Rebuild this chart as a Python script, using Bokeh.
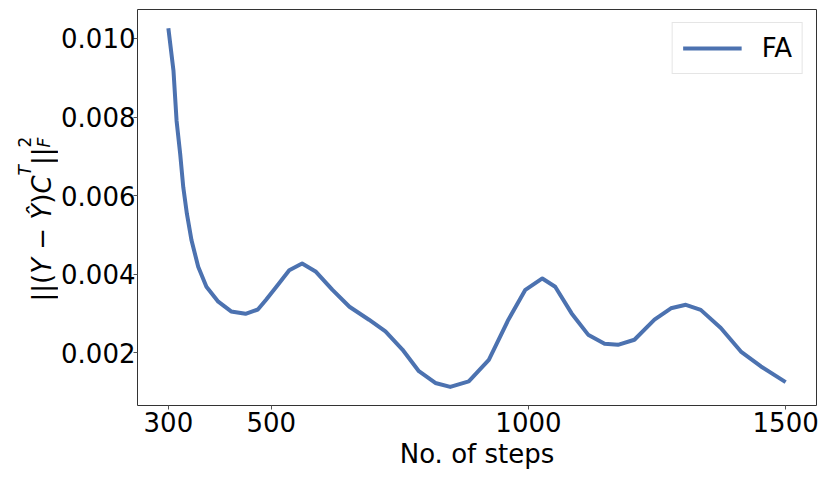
import math
from bokeh.plotting import figure
from bokeh.layouts import row
from bokeh.models import Range1d, FixedTicker, NumeralTickFormatter, Legend, LegendItem
from bokeh.core.properties import value
from bokeh.embed import file_html
from bokeh.resources import INLINE

steps = [300, 310, 316, 323, 329, 336, 345, 358, 374, 397, 422, 450, 474, 490, 510,
         535, 560, 587, 619, 652, 690, 722, 755, 787, 819, 848, 884, 923, 961, 994,
         1027, 1052, 1084, 1116, 1148, 1174, 1206, 1245, 1277, 1306, 1335, 1374,
         1413, 1452, 1500]
error = [0.01026, 0.00917, 0.0079, 0.00706, 0.00621, 0.00554, 0.00486, 0.00419,
         0.00368, 0.0033, 0.00305, 0.00299, 0.0031, 0.00335, 0.00368, 0.0041,
         0.00427, 0.00406, 0.0036, 0.00317, 0.00284, 0.00254, 0.00208, 0.00153,
         0.00123, 0.00113, 0.00127, 0.00182, 0.00284, 0.0036, 0.00389, 0.00368,
         0.0030, 0.00246, 0.00223, 0.0022, 0.00233, 0.00284, 0.00313, 0.00322,
         0.00309, 0.00263, 0.00203, 0.00165, 0.00125]
x_ticks = [300, 500, 1000, 1500]
y_ticks = [0.002, 0.004, 0.006, 0.008, 0.010]
series_name = "FA"
x_label = "No. of steps"
# y label ||(Y − Ŷ)C^T||_F^2 as (text, style, role)
y_label_parts = [("||(", "normal", "base"), ("Y", "italic", "base"),
                 ("\u00a0−\u00a0", "normal", "base"), ("Ŷ", "italic", "base"),
                 (")", "normal", "base"), ("C", "italic", "base"),
                 ("T", "italic", "sup"), ("||", "normal", "base"),
                 ("2", "normal", "sup"), ("F", "italic", "sub")]

FONT = "DejaVu Sans"
BLUE = "#4C72B0"
H = 471
LW = 58  # width of the y-label strip

# advance widths (em) of DejaVu Sans glyphs used
ADV = {"|": 0.337, "(": 0.390, ")": 0.390, "Y": 0.611, "Ŷ": 0.611, " ": 0.318,
       "\u00a0": 0.318, "−": 0.838, "C": 0.698, "T": 0.611, "2": 0.636, "F": 0.575}

# ---- y-label strip ----
lf = figure(width=LW, height=H, output_backend="svg", toolbar_location=None,
            x_range=Range1d(0, LW), y_range=Range1d(0, H),
            min_border=0, min_border_left=0, min_border_right=0,
            min_border_top=0, min_border_bottom=0)
lf.frame_width = LW
lf.frame_height = H
lf.axis.visible = False
lf.grid.visible = False
lf.outline_line_color = None

BASE_SIZE, SMALL_SIZE = 26, 17
ypos = H - 292.0
last_sup_y = ypos
for text, style, role in y_label_parts:
    if role == "base":
        xs, size = 41, BASE_SIZE
        y_here = ypos
    elif role == "sup":
        xs, size = 24, SMALL_SIZE
        y_here = ypos
    else:  # subscript placed under the preceding superscript
        xs, size = 43, SMALL_SIZE
        y_here = last_sup_y
    lf.text(x=[xs], y=[y_here], text=[text], angle=math.pi / 2,
            text_font=value(FONT), text_font_size=value(f"{size}px"),
            text_font_style=style, text_color="black",
            text_align="left", text_baseline="alphabetic")
    w = sum(ADV.get(ch, 0.6) for ch in text) * size
    if role == "sup":
        last_sup_y = y_here
    if role != "sub":
        ypos = y_here + w

# ---- main plot ----
p = figure(width=822 - LW, height=H, output_backend="svg", toolbar_location=None,
           x_range=Range1d(240, 1560), y_range=Range1d(0.000656, 0.010737),
           min_border_left=136 - LW, min_border_right=7, min_border_top=9,
           min_border_bottom=66)
p.frame_width = 679
p.frame_height = 396

r = p.line(steps, error, line_color=BLUE, line_width=4, line_join="round")

p.xgrid.visible = False
p.ygrid.visible = False
p.outline_line_color = "#333333"
p.outline_line_width = 1

for ax in (p.xaxis[0], p.yaxis[0]):
    ax.axis_line_color = None
    ax.major_tick_line_color = "#555555"
    ax.major_tick_out = 4
    ax.major_tick_in = 0
    ax.minor_tick_line_color = None
    ax.major_label_text_font = FONT
    ax.major_label_text_font_size = "26px"
    ax.major_label_text_color = "black"

p.xaxis[0].ticker = FixedTicker(ticks=x_ticks)
p.yaxis[0].ticker = FixedTicker(ticks=y_ticks)
p.yaxis[0].formatter = NumeralTickFormatter(format="0.000")
p.xaxis[0].major_label_standoff = 2
p.yaxis[0].major_label_standoff = -2

p.xaxis[0].axis_label = x_label
p.xaxis[0].axis_label_text_font = FONT
p.xaxis[0].axis_label_text_font_size = "26px"
p.xaxis[0].axis_label_text_font_style = "normal"
p.xaxis[0].axis_label_text_color = "black"
p.xaxis[0].axis_label_standoff = 4

legend = Legend(items=[LegendItem(label=series_name, renderers=[r])],
                location="top_right")
legend.margin = 13
legend.padding = 10
legend.label_text_font = FONT
legend.label_text_font_size = "26px"
legend.label_text_color = "black"
legend.glyph_width = 59
legend.label_standoff = 20
legend.border_line_color = "#cccccc"
legend.border_line_width = 1
legend.background_fill_color = "white"
legend.background_fill_alpha = 0.8
p.add_layout(legend, "center")

layout = row(lf, p, spacing=0)
open("out.html", "w").write(file_html(layout, INLINE))
